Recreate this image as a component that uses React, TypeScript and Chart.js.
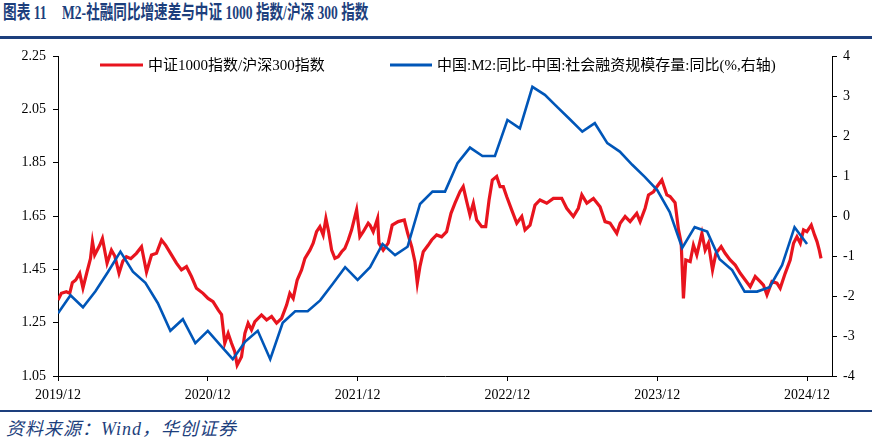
import React, { useEffect, useRef } from 'react';
import { Chart, registerables } from 'chart.js';

Chart.register(...registerables);

// ---- data ----
const xTickMonths = [0, 12, 24, 36, 48, 60];
const xTickLabels = ['2019/12', '2020/12', '2021/12', '2022/12', '2023/12', '2024/12'];
const leftTicks = [1.05, 1.25, 1.45, 1.65, 1.85, 2.05, 2.25];
const rightTicks = [-4, -3, -2, -1, 0, 1, 2, 3, 4];

const ratioLabel = '中证1000指数/沪深300指数';
const spreadLabel = '中国:M2:同比-中国:社会融资规模存量:同比(%,右轴)';

// months since 2019/12
const ratioMonths = [
  0.0, 0.27, 0.67, 0.94, 1.15, 1.42, 1.74, 2.0, 2.32, 2.6, 2.76, 2.94, 3.34, 3.56, 3.93, 4.28, 4.55, 4.89, 5.19, 5.48,
  5.83, 6.28, 6.69, 7.09, 7.49, 7.89, 8.29, 8.63, 9.09, 9.49, 9.89, 10.29, 10.69, 11.09, 11.62, 12.02, 12.42, 12.83, 13.1, 13.36,
  13.63, 13.9, 14.16, 14.35, 14.7, 14.97, 15.23, 15.5, 15.77, 16.3, 16.71, 17.11, 17.51, 17.91, 18.31, 18.57, 18.84, 19.16, 19.51, 19.78,
  20.18, 20.44, 20.71, 20.98, 21.24, 21.46, 21.68, 21.92, 22.18, 22.44, 22.72, 22.98, 23.25, 23.52, 23.92, 24.18, 24.45, 24.85, 24.99, 25.25,
  25.6, 25.71, 26.05, 26.45, 26.77, 27.25, 27.74, 28.01, 28.33, 28.59, 28.78, 28.99, 29.26, 29.66, 29.93, 30.33, 30.73, 31.13, 31.48, 31.8,
  32.2, 32.46, 32.74, 33.0, 33.27, 33.54, 33.94, 34.26, 34.53, 34.79, 35.14, 35.41, 35.67, 35.94, 36.34, 36.75, 37.15, 37.41, 37.81, 38.21,
  38.61, 39.15, 39.68, 40.35, 40.75, 41.28, 41.68, 41.96, 42.36, 42.89, 43.42, 43.82, 44.22, 44.76, 45.03, 45.43, 45.83, 46.36, 46.63, 47.03,
  47.3, 47.7, 47.97, 48.37, 48.77, 49.03, 49.43, 49.7, 49.92, 50.1, 50.29, 50.64, 50.9, 51.17, 51.58, 51.84, 52.1, 52.43, 52.7, 53.12,
  53.44, 53.84, 54.25, 54.65, 55.05, 55.45, 55.85, 56.25, 56.51, 56.79, 57.19, 57.59, 57.85, 58.25, 58.65, 58.92, 59.19, 59.46, 59.72, 59.99,
  60.34, 60.6, 60.8, 60.98, 61.12,
];
const ratioValues = [
  1.335, 1.36, 1.366, 1.36, 1.4, 1.41, 1.435, 1.38, 1.44, 1.49, 1.554, 1.504, 1.54, 1.566, 1.473, 1.522, 1.5, 1.435, 1.48, 1.497,
  1.49, 1.51, 1.535, 1.44, 1.504, 1.51, 1.56, 1.54, 1.504, 1.473, 1.448, 1.46, 1.423, 1.379, 1.36, 1.341, 1.329, 1.298, 1.28, 1.173,
  1.21, 1.173, 1.141, 1.091, 1.122, 1.21, 1.248, 1.223, 1.254, 1.279, 1.26, 1.273, 1.248, 1.266, 1.316, 1.36, 1.341, 1.41, 1.448, 1.491,
  1.522, 1.548, 1.591, 1.61, 1.579, 1.641, 1.591, 1.522, 1.491, 1.497, 1.516, 1.529, 1.56, 1.598, 1.673, 1.572, 1.591, 1.623, 1.616, 1.591,
  1.641, 1.548, 1.522, 1.548, 1.616, 1.629, 1.635, 1.585, 1.535, 1.479, 1.398, 1.46, 1.516, 1.541, 1.56, 1.579, 1.572, 1.591, 1.66, 1.698,
  1.741, 1.76, 1.704, 1.654, 1.698, 1.635, 1.61, 1.61, 1.71, 1.785, 1.798, 1.76, 1.76, 1.723, 1.673, 1.623, 1.648, 1.598, 1.616, 1.691,
  1.71, 1.698, 1.716, 1.716, 1.679, 1.648, 1.679, 1.729, 1.698, 1.716, 1.685, 1.629, 1.623, 1.585, 1.623, 1.648, 1.629, 1.66, 1.629, 1.679,
  1.729, 1.741, 1.76, 1.785, 1.729, 1.723, 1.7, 1.6, 1.548, 1.341, 1.485, 1.479, 1.541, 1.504, 1.585, 1.522, 1.548, 1.448, 1.51, 1.535,
  1.51, 1.485, 1.466, 1.435, 1.41, 1.385, 1.423, 1.404, 1.391, 1.354, 1.404, 1.398, 1.379, 1.435, 1.485, 1.548, 1.572, 1.548, 1.598, 1.591,
  1.616, 1.579, 1.554, 1.522, 1.491,
];

// monthly, from 2019/12 to 2024/12
const spreadMonths = Array.from({ length: 61 }, (_, i) => i);
const spreadValues = [
  -2.43, -1.98, -2.28, -1.88, -1.4, -0.89, -1.39, -1.67, -2.18, -2.87, -2.58, -3.18, -2.87, -3.23, -3.58, -3.14, -2.87, -3.58, -2.67, -2.38,
  -2.38, -2.11, -1.7, -1.28, -1.6, -1.28, -0.7, -0.98, -0.77, 0.3, 0.61, 0.61, 1.32, 1.71, 1.5, 1.5, 2.4, 2.19, 3.23, 3.03,
  2.72, 2.42, 2.11, 2.32, 1.82, 1.61, 1.28, 0.98, 0.65, 0.1, -0.8, -0.28, -0.39, -1.08, -1.35, -1.89, -1.89, -1.78, -1.23, -0.28,
  -0.7,
];

const RED = 'rgb(232,20,30)';
const BLUE = 'rgb(0,86,184)';
const NAVY = '#1d3f7d';
const FONT = '"Liberation Serif", "Noto Sans CJK SC", serif';

const legendPlugin = {
  id: 'insideLegend',
  afterDraw(chart: any) {
    const { ctx } = chart;
    const items = [
      { x0: 100, x1: 143, tx: 148, y: 25, ds: chart.data.datasets[0] },
      { x0: 390, x1: 432, tx: 437, y: 25, ds: chart.data.datasets[1] },
    ];
    ctx.save();
    items.forEach((it) => {
      ctx.strokeStyle = it.ds.borderColor;
      ctx.lineWidth = 3;
      ctx.beginPath();
      ctx.moveTo(it.x0, it.y);
      ctx.lineTo(it.x1, it.y);
      ctx.stroke();
      ctx.fillStyle = '#000';
      ctx.font = `15px ${FONT}`;
      ctx.textBaseline = 'middle';
      ctx.textAlign = 'left';
      ctx.fillText(it.ds.label, it.tx, it.y + 1);
    });
    ctx.restore();
  },
};

export default function App() {
  const ref = useRef<HTMLCanvasElement | null>(null);

  useEffect(() => {
    if (!ref.current) return;
    const chart = new Chart(ref.current, {
      type: 'line',
      data: {
        datasets: [
          {
            label: ratioLabel,
            data: ratioMonths.map((m, i) => ({ x: m, y: ratioValues[i] })),
            borderColor: RED,
            backgroundColor: RED,
            borderWidth: 3.2,
            pointRadius: 0,
            tension: 0,
            yAxisID: 'y',
            order: 2,
          },
          {
            label: spreadLabel,
            data: spreadMonths.map((m, i) => ({ x: m, y: spreadValues[i] })),
            borderColor: BLUE,
            backgroundColor: BLUE,
            borderWidth: 2.6,
            pointRadius: 0,
            tension: 0,
            yAxisID: 'y1',
            order: 1,
          },
        ],
      },
      options: {
        animation: false,
        responsive: false,
        maintainAspectRatio: false,
        layout: { padding: { top: 16, left: 0, right: 0, bottom: 0 } },
        plugins: { legend: { display: false }, tooltip: { enabled: false }, title: { display: false } },
        scales: {
          x: {
            type: 'linear',
            min: 0,
            max: 62,
            afterBuildTicks: (scale: any) => {
              scale.ticks = xTickMonths.map((v) => ({ value: v }));
            },
            afterFit: (scale: any) => {
              scale.height = 34;
            },
            ticks: {
              autoSkip: false,
              maxRotation: 0,
              padding: 6,
              color: '#000',
              font: { family: FONT, size: 14 },
              callback: (v: any) => {
                const i = xTickMonths.indexOf(Number(v));
                return i >= 0 ? xTickLabels[i] : '';
              },
            },
            grid: { drawOnChartArea: false, drawTicks: true, tickLength: 5, color: '#000', lineWidth: 1 },
            border: { display: true, color: '#000', width: 1 },
          },
          y: {
            type: 'linear',
            position: 'left',
            min: 1.05,
            max: 2.25,
            afterBuildTicks: (scale: any) => {
              scale.ticks = leftTicks.map((v) => ({ value: v }));
            },
            afterFit: (scale: any) => {
              scale.width = 58;
            },
            ticks: {
              padding: 7,
              color: '#000',
              font: { family: FONT, size: 14 },
              callback: (v: any) => Number(v).toFixed(2),
            },
            grid: { drawOnChartArea: false, drawTicks: true, tickLength: 5, color: '#000', lineWidth: 1 },
            border: { display: true, color: '#000', width: 1 },
          },
          y1: {
            type: 'linear',
            position: 'right',
            min: -4,
            max: 4,
            afterBuildTicks: (scale: any) => {
              scale.ticks = rightTicks.map((v) => ({ value: v }));
            },
            afterFit: (scale: any) => {
              scale.width = 43;
            },
            ticks: {
              padding: 6,
              color: '#000',
              font: { family: FONT, size: 14 },
              callback: (v: any) => String(v),
            },
            grid: { drawOnChartArea: false, drawTicks: true, tickLength: 5, color: '#000', lineWidth: 1 },
            border: { display: true, color: '#000', width: 1 },
          },
        },
      },
      plugins: [legendPlugin],
    } as any);
    return () => chart.destroy();
  }, []);

  return (
    <div style={{ position: 'absolute', left: 0, top: 0, width: 875, height: 445, background: '#fff', overflow: 'hidden' }}>
      <div
        style={{
          position: 'absolute', left: 3, top: 0, height: 26, lineHeight: '26px', whiteSpace: 'nowrap',
          fontFamily: FONT, fontWeight: 'bold', fontSize: 19, color: NAVY, transform: 'scaleX(0.72)', transformOrigin: 'left center',
        }}
      >
        图表 11
      </div>
      <div
        style={{
          position: 'absolute', left: 62, top: 0, height: 26, lineHeight: '26px', whiteSpace: 'nowrap',
          fontFamily: FONT, fontWeight: 'bold', fontSize: 19, color: NAVY, transform: 'scaleX(0.715)', transformOrigin: 'left center',
        }}
      >
        M2-社融同比增速差与中证 1000 指数/沪深 300 指数
      </div>
      <div style={{ position: 'absolute', left: 0, top: 36, width: 872, height: 3, background: NAVY }} />
      <canvas ref={ref} width={875} height={370} style={{ position: 'absolute', left: 0, top: 40, width: 875, height: 370 }} />
      <div style={{ position: 'absolute', left: 0, top: 410, width: 872, height: 2, background: NAVY }} />
      <div
        style={{
          position: 'absolute', left: 6, top: 417, height: 24, lineHeight: '24px', whiteSpace: 'nowrap',
          fontFamily: FONT, fontStyle: 'italic', fontSize: 18, letterSpacing: 1, color: NAVY,
        }}
      >
        资料来源：Wind，华创证券
      </div>
    </div>
  );
}
